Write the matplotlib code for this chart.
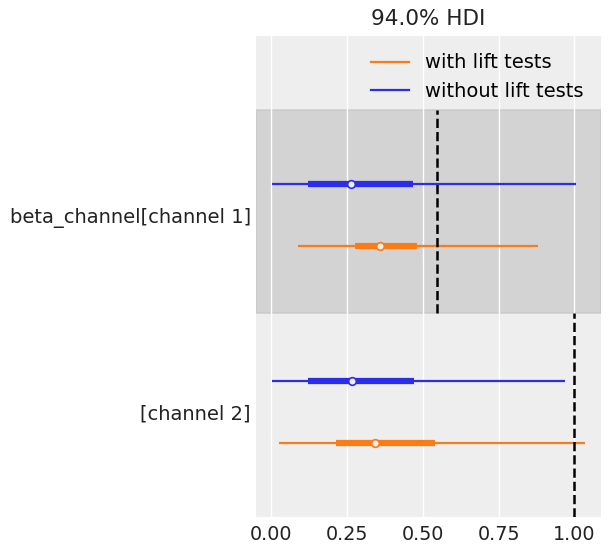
import matplotlib
matplotlib.use("Agg")
import matplotlib.pyplot as plt
import numpy as np

channels = ["beta_channel[channel 1]", "[channel 2]"]
models = ["with lift tests", "without lift tests"]
colors = {"with lift tests": "#fa7c17", "without lift tests": "#2a2eec"}

# HDI 94% (thin), IQR-like 50% (thick), median per channel
with_hdi_low = [0.088, 0.025]
with_hdi_high = [0.880, 1.035]
with_q_low = [0.276, 0.213]
with_q_high = [0.480, 0.542]
with_median = [0.359, 0.342]

without_hdi_low = [0.002, 0.002]
without_hdi_high = [1.006, 0.969]
without_q_low = [0.121, 0.121]
without_q_high = [0.467, 0.470]
without_median = [0.264, 0.267]

true_values = [0.548, 1.0]

data = {
    "with lift tests": (with_hdi_low, with_hdi_high, with_q_low, with_q_high, with_median),
    "without lift tests": (without_hdi_low, without_hdi_high, without_q_low, without_q_high, without_median),
}

plt.rcParams['font.family'] = ['DejaVu Sans']
fig = plt.figure(figsize=(6.11, 5.51), dpi=100)
ax = fig.add_axes([256/611, 1 - 517/551, 345/611, 481/551])
ax.set_facecolor("#eeeeee")
for s in ax.spines.values():
    s.set_visible(False)

# layout (y in pixel-like units from bottom of axes)
band_top = [407, 204]
band_bot = [204, 0]
offsets = {"with lift tests": -31, "without lift tests": 31}
centers = [302, 105]

ax.set_xlim(-0.05, 1.088)
ax.set_ylim(0, 481)
ax.set_xticks([0, 0.25, 0.5, 0.75, 1.0])
ax.set_xticklabels(["0.00", "0.25", "0.50", "0.75", "1.00"])
ax.grid(axis="x", color="white", lw=1.0)
ax.set_axisbelow(True)

ax.axhspan(band_bot[0], band_top[0], color="#c8c8c8", alpha=0.7, lw=1.2, ec="#c4c4c4", zorder=0.5)

for i in range(len(channels)):
    for m in models:
        lo, hi, qlo, qhi, med = data[m]
        y = centers[i] + offsets[m]
        c = colors[m]
        ax.plot([lo[i], hi[i]], [y, y], color=c, lw=1.6, solid_capstyle="butt", zorder=3)
        ax.plot([qlo[i], qhi[i]], [y, y], color=c, lw=4.5, solid_capstyle="butt", zorder=3)
        ax.plot([med[i]], [y], marker="o", ms=5.5, mfc="#eeeeee", mec=c, mew=1.2, zorder=4)
    ax.plot([true_values[i], true_values[i]], [band_bot[i], band_top[i]], color="black",
            ls="--", lw=1.8, zorder=5)

ax.set_yticks(centers)
ax.set_yticklabels(channels)
ax.tick_params(axis="y", length=0, labelsize=14, colors="#222222", pad=3.8)
ax.tick_params(axis="x", length=0, labelsize=13.8, colors="#222222", pad=6)
ax.set_title("94.0% HDI", fontsize=15.5, color="#222222", pad=8)

handles = [plt.Line2D([], [], color=colors[m], lw=1.6) for m in models]
ax.legend(handles, models, loc="upper right", frameon=False, fontsize=14,
          borderaxespad=0.5, handlelength=2.0)

fig.savefig("out.png", dpi=100)
